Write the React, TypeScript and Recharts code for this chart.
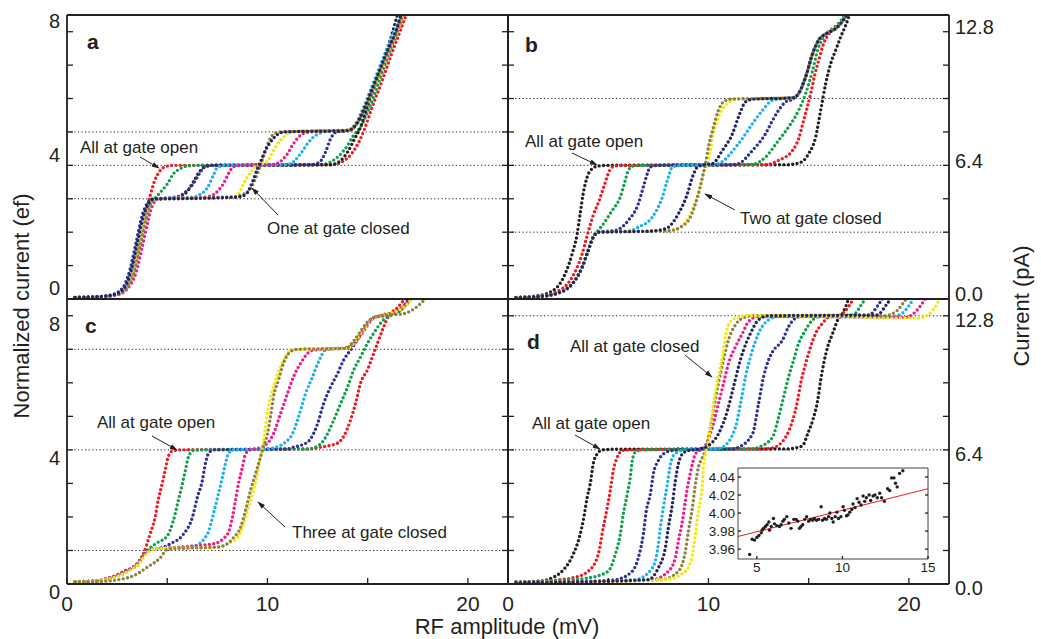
import {
  LineChart,
  ComposedChart,
  Line,
  Scatter,
  XAxis,
  YAxis,
  ReferenceLine,
  CartesianGrid,
} from "recharts";

type Pt = [number, number];

const INK = "#231f20";
const FONT = "'Liberation Sans', Arial, sans-serif";

const RED = "#ec1c24";
const GREEN = "#14a04a";
const BLACK = "#231f20";
const BLUE = "#2e3192";
const CYAN = "#1cb2ec";
const MAGENTA = "#ec1c8c";
const YELLOW = "#f4e812";
const OLIVE = "#8e8040";
const NAVY = "#222462";

// ---- panel a : one at gate closed ----
const aRed: Pt[] = [[0.4,0.04],[1.5,0.06],[2.4,0.12],[2.9,0.3],[3.25,0.75],[3.55,1.5],[3.85,2.3],[4.15,3.1],[4.35,3.5],[4.6,3.8],[4.9,3.96],[5.3,4.0],[9,4.0],[13.2,4.02],[13.7,4.1],[14.2,4.35],[14.6,4.75],[14.85,5.1],[15.2,5.7],[15.7,6.5],[16.2,7.35],[16.7,8.15],[17.1,8.8]];
const aGreen: Pt[] = [[0.4,0.04],[1.5,0.06],[2.4,0.12],[2.9,0.3],[3.3,0.8],[3.6,1.6],[3.9,2.4],[4.15,2.85],[4.4,3.02],[4.65,3.19],[5.0,3.44],[5.3,3.74],[5.65,3.9],[6.0,3.98],[6.5,4.0],[12.6,4.02],[13.0,4.06],[13.5,4.25],[14.0,4.6],[14.3,4.9],[14.65,5.15],[15.0,5.6],[15.5,6.4],[16.0,7.25],[16.5,8.05],[16.9,8.8]];
const aBlack: Pt[] = [[0.4,0.04],[1.5,0.06],[2.4,0.12],[2.9,0.3],[3.3,0.8],[3.6,1.6],[3.9,2.4],[4.15,2.85],[4.4,2.98],[4.8,3.0],[5.6,3.05],[6.0,3.22],[6.3,3.5],[6.6,3.8],[6.9,3.96],[7.3,4.0],[13.2,4.02],[13.6,4.12],[14.0,4.4],[14.35,4.8],[14.65,5.15],[15.0,5.8],[15.4,6.5],[15.8,7.2],[16.2,7.9],[16.6,8.8]];
const aBlue: Pt[] = [[0.4,0.05],[1.5,0.07],[2.3,0.14],[2.8,0.35],[3.15,0.9],[3.45,1.7],[3.75,2.5],[4.05,2.9],[4.3,3.0],[5.0,3.02],[5.6,3.08],[5.9,3.2],[6.3,3.45],[6.6,3.75],[6.85,3.95],[7.2,4.0],[12.2,4.02],[12.6,4.1],[12.9,4.4],[13.15,4.8],[13.45,5.0],[14.0,5.04],[14.4,5.2],[14.8,5.6],[15.2,6.2],[15.6,6.8],[16.0,7.4],[16.4,8.0],[16.8,8.8]];
const aCyan: Pt[] = [[0.4,0.04],[1.5,0.06],[2.4,0.12],[2.9,0.3],[3.3,0.8],[3.6,1.6],[3.9,2.4],[4.15,2.85],[4.4,2.98],[5.0,3.02],[6.3,3.05],[6.6,3.12],[7.0,3.32],[7.3,3.7],[7.5,3.93],[7.9,4.0],[10.8,4.02],[11.15,4.05],[11.65,4.35],[12.0,4.65],[12.3,4.85],[12.65,4.97],[13.0,5.02],[14.0,5.05],[14.4,5.25],[14.8,5.75],[15.2,6.35],[15.6,6.95],[16.0,7.55],[16.4,8.1],[16.8,8.8]];
const aMagenta: Pt[] = [[0.4,0.04],[1.5,0.06],[2.5,0.12],[3.0,0.3],[3.45,0.8],[3.75,1.55],[4.05,2.35],[4.3,2.85],[4.6,3.0],[6.5,3.03],[7.0,3.06],[7.3,3.12],[7.8,3.45],[8.15,3.85],[8.3,3.96],[8.7,4.0],[10.2,4.02],[10.5,4.06],[11.0,4.35],[11.3,4.65],[11.65,4.9],[11.9,4.98],[12.5,5.02],[14.1,5.06],[14.5,5.3],[14.9,5.8],[15.3,6.35],[15.7,6.9],[16.1,7.5],[16.5,8.05],[16.9,8.8]];
const aYellow: Pt[] = [[0.4,0.04],[1.5,0.06],[2.4,0.12],[2.9,0.3],[3.3,0.8],[3.6,1.6],[3.9,2.4],[4.15,2.85],[4.4,2.98],[4.8,3.0],[8.0,3.05],[8.5,3.1],[8.8,3.45],[9.15,3.78],[9.5,4.0],[9.75,4.05],[10.0,4.12],[10.3,4.45],[10.65,4.75],[11.0,4.95],[11.5,5.02],[14.1,5.06],[14.5,5.3],[14.9,5.8],[15.3,6.35],[15.7,6.9],[16.1,7.5],[16.5,8.05],[16.9,8.8]];
const aOlive: Pt[] = [[0.4,0.04],[1.5,0.06],[2.45,0.12],[2.95,0.3],[3.35,0.8],[3.65,1.6],[3.95,2.4],[4.2,2.85],[4.45,2.98],[4.8,3.0],[8.4,3.06],[8.75,3.12],[9.15,3.3],[9.4,3.6],[9.65,4.0],[9.85,4.35],[10.05,4.7],[10.3,4.93],[10.65,5.0],[14.1,5.05],[14.5,5.28],[14.9,5.78],[15.3,6.35],[15.7,6.95],[16.1,7.55],[16.5,8.1],[16.9,8.8]];
const aNavy: Pt[] = [[0.4,0.05],[1.5,0.07],[2.35,0.13],[2.85,0.32],[3.2,0.85],[3.5,1.65],[3.8,2.45],[4.1,2.88],[4.35,3.0],[4.8,3.0],[8.5,3.05],[8.9,3.12],[9.25,3.5],[9.5,3.9],[9.65,4.1],[9.9,4.45],[10.15,4.7],[10.5,4.92],[10.8,5.0],[14.0,5.04],[14.4,5.2],[14.8,5.65],[15.2,6.25],[15.6,6.85],[16.0,7.45],[16.4,8.0],[16.8,8.8]];

// ---- panel b : two at gate closed ----
const bBlack: Pt[] = [[0.4,0.05],[1.5,0.1],[2.35,0.3],[2.85,0.75],[3.2,1.35],[3.45,1.95],[3.6,2.55],[3.75,3.15],[3.95,3.65],[4.2,3.9],[4.5,3.98],[5.0,4.0],[14.0,4.02],[14.35,4.05],[14.7,4.12],[15.0,4.35],[15.35,4.85],[15.6,5.65],[15.85,6.45],[16.1,7.05],[16.35,7.45],[16.6,7.85],[16.85,8.2],[17.2,8.8]];
const bRed: Pt[] = [[0.4,0.04],[1.5,0.08],[2.35,0.2],[3.2,0.65],[3.7,1.35],[3.95,1.9],[4.25,2.5],[4.55,2.95],[4.8,3.4],[5.05,3.82],[5.3,3.98],[6.0,4.0],[12.85,4.02],[13.5,4.15],[14.2,4.45],[14.5,4.8],[14.75,5.35],[15.1,6.15],[15.3,6.7],[15.5,7.15],[15.75,7.65],[16.1,8.0],[16.5,8.2],[17.1,8.8]];
const bGreen: Pt[] = [[0.4,0.04],[1.5,0.07],[2.35,0.15],[3.2,0.45],[3.7,0.95],[4.0,1.45],[4.3,1.9],[4.5,2.05],[4.7,2.2],[5.2,2.65],[5.6,3.05],[5.85,3.55],[6.0,3.85],[6.25,3.98],[6.8,4.0],[12.2,4.03],[12.85,4.25],[13.5,4.75],[14.0,5.15],[14.5,5.65],[14.85,6.15],[15.2,6.85],[15.45,7.45],[15.7,7.8],[16.1,8.05],[16.5,8.25],[17.1,8.8]];
const bBlue: Pt[] = [[0.4,0.04],[1.5,0.07],[2.35,0.15],[3.2,0.45],[3.7,0.95],[4.0,1.45],[4.25,1.85],[4.5,2.0],[5.35,2.05],[6.0,2.35],[6.5,2.85],[6.75,3.35],[6.95,3.75],[7.1,3.95],[7.5,4.0],[11.2,4.02],[11.5,4.05],[12.2,4.45],[12.85,4.95],[13.2,5.35],[13.5,5.65],[13.85,5.9],[14.2,5.98],[14.5,6.15],[14.85,6.65],[15.2,7.35],[15.5,7.75],[15.9,7.95],[16.4,8.12],[16.9,8.5],[17.2,8.8]];
const bCyan: Pt[] = [[0.4,0.04],[1.5,0.07],[2.35,0.15],[3.2,0.45],[3.7,0.95],[4.0,1.45],[4.25,1.85],[4.5,2.0],[6.0,2.03],[6.5,2.15],[7.2,2.45],[7.7,3.05],[8.0,3.65],[8.2,3.95],[8.6,4.0],[10.2,4.02],[10.5,4.05],[11.5,4.65],[12.2,5.25],[12.7,5.65],[13.2,5.95],[13.8,6.0],[14.2,6.02],[14.5,6.15],[14.85,6.65],[15.2,7.35],[15.5,7.75],[15.9,7.95],[16.4,8.12],[16.9,8.5],[17.2,8.8]];
const bYellow: Pt[] = [[0.4,0.04],[1.5,0.07],[2.35,0.15],[3.2,0.45],[3.7,0.95],[4.0,1.45],[4.25,1.85],[4.5,2.0],[8.0,2.05],[8.5,2.1],[8.9,2.35],[9.25,2.75],[9.6,3.35],[9.75,3.75],[9.95,4.05],[10.1,4.45],[10.25,4.95],[10.5,5.45],[10.85,5.8],[11.2,5.95],[11.6,6.0],[14.2,6.02],[14.5,6.15],[14.85,6.65],[15.2,7.35],[15.5,7.75],[15.9,7.95],[16.4,8.12],[16.9,8.5],[17.2,8.8]];
const bOlive: Pt[] = [[0.4,0.04],[1.5,0.07],[2.35,0.15],[3.2,0.45],[3.7,0.95],[4.0,1.45],[4.25,1.85],[4.5,2.0],[8.0,2.04],[8.6,2.15],[9.1,2.45],[9.45,3.05],[9.7,3.65],[9.85,4.05],[10.0,4.55],[10.25,5.15],[10.5,5.65],[10.75,5.9],[11.1,5.98],[14.2,6.02],[14.5,6.15],[14.85,6.65],[15.2,7.35],[15.5,7.75],[15.9,7.95],[16.4,8.12],[16.9,8.5],[17.2,8.8]];
const bNavy: Pt[] = [[0.4,0.04],[1.5,0.07],[2.35,0.15],[3.2,0.45],[3.7,0.95],[4.0,1.45],[4.25,1.85],[4.5,2.0],[7.0,2.03],[7.85,2.1],[8.5,2.55],[8.95,3.15],[9.2,3.65],[9.45,3.95],[9.8,4.02],[10.2,4.05],[10.7,4.45],[11.2,4.95],[11.5,5.45],[11.85,5.9],[12.2,5.98],[14.2,6.02],[14.5,6.15],[14.85,6.65],[15.2,7.35],[15.5,7.75],[15.9,7.95],[16.4,8.12],[16.9,8.5],[17.2,8.8]];

// ---- panel c : three at gate closed ----
const cRed: Pt[] = [[0.4,0.07],[1.5,0.1],[2.2,0.2],[3.0,0.42],[3.5,0.55],[3.8,0.88],[4.15,1.5],[4.4,2.0],[4.55,2.5],[4.75,3.0],[4.9,3.4],[5.05,3.8],[5.3,3.98],[5.7,4.0],[12.2,4.03],[12.65,4.08],[13.5,4.2],[13.8,4.4],[14.15,4.9],[14.4,5.4],[14.65,6.0],[15.0,6.4],[15.25,6.8],[15.5,7.2],[15.75,7.6],[16.05,8.0],[16.5,8.25],[17.1,8.7]];
const cGreen: Pt[] = [[0.4,0.07],[1.5,0.09],[2.2,0.18],[3.0,0.38],[3.5,0.6],[3.85,0.9],[4.15,1.08],[4.5,1.23],[5.0,1.43],[5.3,1.88],[5.55,2.48],[5.75,2.98],[5.9,3.38],[6.05,3.78],[6.3,3.98],[6.7,4.0],[12.0,4.03],[12.3,4.06],[12.8,4.28],[13.3,4.88],[13.65,5.38],[14.0,5.88],[14.3,6.38],[14.65,6.78],[14.9,7.08],[15.3,7.48],[15.8,7.88],[16.3,8.05],[16.8,8.25],[17.3,8.7]];
const cBlue: Pt[] = [[0.4,0.07],[1.5,0.09],[2.15,0.18],[3.0,0.38],[3.5,0.6],[3.9,0.9],[4.2,1.04],[4.6,1.06],[5.15,1.2],[5.8,1.48],[6.25,1.98],[6.5,2.58],[6.75,3.08],[6.9,3.58],[7.05,3.88],[7.3,4.0],[11.0,4.03],[11.3,4.08],[12.0,4.23],[12.5,4.78],[12.8,5.38],[13.15,5.88],[13.5,6.28],[13.8,6.68],[14.15,6.98],[14.5,7.3],[14.9,7.7],[15.3,7.95],[16.0,8.02],[16.6,8.15],[17.2,8.7]];
const cCyan: Pt[] = [[0.4,0.07],[1.5,0.09],[2.15,0.18],[3.0,0.38],[3.5,0.6],[3.9,0.9],[4.2,1.04],[4.6,1.06],[6.3,1.13],[7.0,1.48],[7.3,2.08],[7.55,2.68],[7.75,3.18],[7.9,3.58],[8.05,3.88],[8.3,4.0],[10.0,4.03],[10.3,4.06],[11.15,4.38],[11.55,4.98],[11.9,5.68],[12.25,6.18],[12.55,6.63],[12.9,6.98],[13.3,7.02],[14.0,7.05],[14.4,7.25],[14.8,7.6],[15.2,7.9],[15.7,8.02],[16.4,8.1],[16.9,8.3],[17.4,8.7]];
const cMagenta: Pt[] = [[0.4,0.07],[1.5,0.09],[2.15,0.18],[3.0,0.38],[3.5,0.6],[3.9,0.9],[4.2,1.04],[4.6,1.06],[7.3,1.2],[8.0,1.48],[8.25,1.98],[8.4,2.48],[8.55,2.98],[8.75,3.48],[8.9,3.88],[9.15,4.0],[9.5,4.04],[9.8,4.1],[10.3,4.48],[10.65,5.08],[11.0,5.68],[11.3,6.18],[11.65,6.58],[12.0,6.88],[12.3,6.98],[14.0,7.04],[14.4,7.22],[14.8,7.55],[15.2,7.88],[15.7,8.02],[16.4,8.12],[16.9,8.35],[17.3,8.7]];
const cYellow: Pt[] = [[0.4,0.07],[1.5,0.09],[2.2,0.17],[3.0,0.36],[3.55,0.58],[3.95,0.88],[4.25,1.03],[4.6,1.06],[7.5,1.1],[8.0,1.2],[8.5,1.38],[8.8,1.78],[9.05,2.28],[9.25,2.68],[9.5,3.28],[9.65,3.78],[9.75,4.08],[9.9,4.68],[10.05,5.28],[10.3,5.88],[10.65,6.48],[10.9,6.78],[11.15,6.96],[11.6,7.0],[14.0,7.03],[14.4,7.25],[14.8,7.6],[15.2,7.9],[15.7,8.02],[16.3,8.1],[16.9,8.3],[17.4,8.7]];
const cOlive: Pt[] = [[0.4,0.06],[1.5,0.07],[2.5,0.12],[3.5,0.3],[4.0,0.5],[4.65,0.78],[5.0,1.03],[5.5,1.06],[7.5,1.1],[8.0,1.2],[8.3,1.38],[8.65,1.68],[8.9,2.18],[9.15,2.78],[9.4,3.28],[9.65,3.78],[9.8,4.08],[10.0,4.48],[10.15,4.98],[10.3,5.58],[10.55,6.08],[10.8,6.58],[11.15,6.93],[11.5,7.0],[13.9,7.03],[14.3,7.25],[14.6,7.5],[14.9,7.75],[15.3,7.95],[16.0,8.02],[16.7,8.05],[17.3,8.2],[17.8,8.45],[18.2,8.7]];

// ---- panel d : all at gate closed ----
const dBlack: Pt[] = [[0.4,0.06],[1.5,0.08],[2.35,0.23],[2.85,0.48],[3.25,0.88],[3.6,1.48],[3.75,1.88],[3.95,2.58],[4.1,2.98],[4.25,3.58],[4.45,3.88],[4.7,4.0],[5.5,4.02],[14.0,4.03],[14.35,4.06],[14.7,4.13],[14.95,4.48],[15.2,4.88],[15.45,5.48],[15.6,6.08],[15.75,6.58],[15.95,7.08],[16.2,7.48],[16.45,7.88],[16.7,8.08],[16.85,8.28],[17.1,8.7]];
const dRed: Pt[] = [[0.4,0.05],[2.0,0.1],[3.2,0.18],[4.0,0.38],[4.5,0.88],[4.75,1.68],[4.95,2.28],[5.1,2.78],[5.25,3.38],[5.45,3.78],[5.7,3.98],[6.0,4.0],[12.8,4.03],[13.2,4.06],[13.85,4.38],[14.2,4.88],[14.45,5.48],[14.6,5.98],[14.85,6.58],[15.1,7.08],[15.35,7.48],[15.7,7.78],[16.0,7.96],[16.5,8.0],[17.0,8.28],[17.4,8.7]];
const dGreen: Pt[] = [[0.4,0.05],[2.5,0.1],[4.0,0.18],[5.0,0.38],[5.35,0.88],[5.6,1.48],[5.75,2.08],[5.95,2.68],[6.1,3.18],[6.2,3.68],[6.35,3.93],[6.7,4.0],[12.2,4.03],[12.5,4.08],[13.2,4.38],[13.5,4.98],[13.75,5.58],[14.0,6.18],[14.25,6.68],[14.5,7.18],[14.85,7.58],[15.2,7.88],[15.7,8.0],[17.2,8.02],[17.6,8.3],[18.0,8.7]];
const dBlue: Pt[] = [[0.4,0.04],[3.0,0.06],[5.35,0.13],[6.2,0.38],[6.5,0.78],[6.75,1.48],[6.9,2.18],[7.1,2.68],[7.25,3.28],[7.5,3.68],[7.75,3.88],[8.2,3.98],[8.7,4.0],[11.2,4.03],[11.5,4.08],[12.2,4.48],[12.5,5.38],[12.75,6.18],[13.0,6.68],[13.2,6.93],[13.7,7.28],[14.0,7.68],[14.35,7.93],[14.85,8.0],[18.0,8.02],[18.5,8.35],[18.9,8.7]];
const dCyan: Pt[] = [[0.4,0.04],[3.0,0.06],[6.35,0.13],[7.2,0.48],[7.45,0.98],[7.6,1.68],[7.75,2.28],[7.95,2.98],[8.05,3.38],[8.2,3.78],[8.45,3.93],[8.85,4.0],[10.4,4.03],[10.7,4.08],[11.35,4.68],[11.6,5.38],[11.85,6.18],[12.1,6.78],[12.5,7.48],[13.0,7.88],[13.5,7.98],[19.0,7.96],[19.6,8.05],[20.0,8.3],[20.4,8.7]];
const dMagenta: Pt[] = [[0.4,0.04],[3.0,0.06],[7.2,0.13],[8.0,0.38],[8.35,0.78],[8.5,1.28],[8.7,1.88],[8.85,2.48],[8.95,2.88],[9.05,3.18],[9.2,3.58],[9.35,3.88],[9.6,4.0],[9.85,4.13],[10.2,4.68],[10.5,5.38],[10.75,5.98],[11.0,6.58],[11.35,7.08],[11.7,7.48],[12.0,7.83],[12.5,7.98],[19.0,7.96],[19.8,7.95],[20.3,8.1],[20.7,8.4],[21.0,8.7]];
const dOlive: Pt[] = [[0.4,0.04],[3.0,0.06],[7.7,0.13],[8.5,0.38],[8.85,0.98],[9.0,1.58],[9.2,2.28],[9.35,2.98],[9.5,3.48],[9.7,3.78],[9.85,3.98],[10.0,4.38],[10.25,5.18],[10.5,5.98],[10.75,6.68],[11.0,7.28],[11.35,7.73],[11.7,7.93],[12.2,8.0],[18.8,8.0],[19.4,8.15],[19.8,8.45],[20.1,8.7]];
const dYellow: Pt[] = [[0.4,0.04],[3.0,0.06],[7.85,0.13],[8.85,0.38],[9.2,0.88],[9.35,1.48],[9.5,2.18],[9.7,2.98],[9.75,3.48],[9.85,3.88],[9.95,4.08],[10.1,4.68],[10.25,5.38],[10.5,6.18],[10.7,6.78],[10.85,7.38],[11.1,7.83],[11.5,7.96],[12.0,8.0],[17.0,7.98],[18.5,7.93],[20.5,7.93],[21.0,8.05],[21.4,8.35],[21.7,8.7]];
const dNavy: Pt[] = [[0.4,0.04],[3.0,0.06],[7.0,0.13],[7.5,0.48],[7.85,1.08],[8.0,1.68],[8.2,2.38],[8.35,3.08],[8.5,3.58],[8.7,3.88],[9.0,3.98],[9.5,4.02],[10.0,4.13],[10.5,4.48],[10.95,5.18],[11.25,5.88],[11.5,6.48],[11.75,6.98],[12.1,7.48],[12.5,7.88],[13.0,8.0],[18.4,8.02],[18.9,8.35],[19.3,8.7]];

// plateau guide lines (ef)
const levelsA = [3, 4, 5];
const levelsB = [2, 4, 6];
const levelsC = [1, 4, 7];
const levelsD = [4, 8];

// inset of panel d: plateau current near 4 ef
const insetX = [4.58,4.73,4.87,5.0,5.12,5.26,5.31,5.39,5.5,5.6,5.7,5.74,5.84,5.97,6.03,6.17,6.32,6.42,6.52,6.61,6.75,6.87,7.0,7.16,7.29,7.39,7.49,7.58,7.68,7.8,7.91,8.03,8.14,8.26,8.36,8.49,8.61,8.76,8.84,8.96,9.07,9.19,9.27,9.38,9.46,9.58,9.68,9.77,9.91,10.04,10.12,10.24,10.33,10.43,10.55,10.62,10.74,10.86,10.97,11.09,11.21,11.3,11.4,11.56,11.65,11.79,11.9,12.04,12.18,12.29,12.45,12.64,12.76,12.87,13.01,13.1,13.2,13.34,13.53];
const insetY = [3.954,3.971,3.970,3.973,3.975,3.978,3.981,3.983,3.985,3.987,3.990,3.981,3.985,3.994,3.988,3.986,3.985,3.987,3.991,3.993,3.996,3.989,3.983,3.993,3.993,3.991,3.983,3.985,3.987,3.993,3.996,3.991,3.993,3.992,3.994,3.992,3.993,4.007,3.992,3.994,3.993,3.996,4.000,3.994,3.990,3.996,4.001,3.994,3.996,4.007,4.003,3.997,3.998,4.001,4.004,4.010,4.006,4.016,4.012,4.009,4.019,4.013,4.017,4.020,4.014,4.019,4.020,4.017,4.022,4.017,4.013,4.027,4.025,4.039,4.039,4.033,4.029,4.044,4.047];
const fitX = [3.9, 15];
const fitY = [3.974, 4.027];

type Series = { name: string; color: string; pts: Pt[] };

const seriesA: Series[] = [
  { name: "red", color: RED, pts: aRed },
  { name: "green", color: GREEN, pts: aGreen },
  { name: "black", color: BLACK, pts: aBlack },
  { name: "blue", color: BLUE, pts: aBlue },
  { name: "cyan", color: CYAN, pts: aCyan },
  { name: "magenta", color: MAGENTA, pts: aMagenta },
  { name: "yellow", color: YELLOW, pts: aYellow },
  { name: "olive", color: OLIVE, pts: aOlive },
  { name: "navy", color: NAVY, pts: aNavy },
];
const seriesB: Series[] = [
  { name: "black", color: BLACK, pts: bBlack },
  { name: "red", color: RED, pts: bRed },
  { name: "green", color: GREEN, pts: bGreen },
  { name: "blue", color: BLUE, pts: bBlue },
  { name: "cyan", color: CYAN, pts: bCyan },
  { name: "yellow", color: YELLOW, pts: bYellow },
  { name: "olive", color: OLIVE, pts: bOlive },
  { name: "navy", color: NAVY, pts: bNavy },
];
const seriesC: Series[] = [
  { name: "red", color: RED, pts: cRed },
  { name: "green", color: GREEN, pts: cGreen },
  { name: "blue", color: BLUE, pts: cBlue },
  { name: "cyan", color: CYAN, pts: cCyan },
  { name: "magenta", color: MAGENTA, pts: cMagenta },
  { name: "yellow", color: YELLOW, pts: cYellow },
  { name: "olive", color: OLIVE, pts: cOlive },
];
const seriesD: Series[] = [
  { name: "black", color: BLACK, pts: dBlack },
  { name: "red", color: RED, pts: dRed },
  { name: "green", color: GREEN, pts: dGreen },
  { name: "blue", color: BLUE, pts: dBlue },
  { name: "cyan", color: CYAN, pts: dCyan },
  { name: "magenta", color: MAGENTA, pts: dMagenta },
  { name: "olive", color: OLIVE, pts: dOlive },
  { name: "yellow", color: YELLOW, pts: dYellow },
  { name: "navy", color: NAVY, pts: dNavy },
];

type Side = "left" | "right" | "top" | "bottom";
type TickOpts = { len?: number; fmt?: (v: number) => string | null; dy?: number; gap?: number; size?: number };

// inward tick marks, labels outside
function makeTick(side: Side, o: TickOpts = {}) {
  const len = o.len ?? 6;
  const gap = o.gap ?? 7;
  const size = o.size ?? 20;
  const dy = o.dy ?? 0;
  return (p: any) => {
    const { x, y, payload } = p;
    const lab = o.fmt ? o.fmt(payload.value) : null;
    let x2 = x;
    let y2 = y;
    if (side === "left") x2 = x + len;
    if (side === "right") x2 = x - len;
    if (side === "top") y2 = y + len;
    if (side === "bottom") y2 = y - len;
    let tx = x;
    let ty = y;
    let anchor: "end" | "start" | "middle" = "middle";
    if (side === "left") { tx = x - gap; anchor = "end"; }
    if (side === "right") { tx = x + gap; anchor = "start"; }
    if (side === "bottom") ty = y + gap;
    return (
      <g>
        <line x1={x} y1={y} x2={x2} y2={y2} stroke={INK} strokeWidth={1.3} />
        {lab !== null && (
          <text x={tx} y={ty + dy} dy="0.36em" textAnchor={anchor} fontSize={size} fill={INK} fontFamily={FONT}>
            {lab}
          </text>
        )}
      </g>
    );
  };
}

const efLabel = (v: number) => (v % 4 === 0 ? String(v) : null);
const paLabel = (v: number) => (v % 4 === 0 ? (v * 1.6).toFixed(1) : null);
const mvLabel = (v: number) => (v % 10 === 0 ? String(v) : null);

const xTicks = [0, 5, 10, 15, 20];
const yTicks = [0, 1, 2, 3, 4, 5, 6, 7, 8];
const axisLine = { stroke: INK, strokeWidth: 1.8 };

type PanelProps = {
  series: Series[];
  levels: number[];
  left: number;
  top: number;
  width: number;
  height: number;
  margin: { top: number; right: number; bottom: number; left: number };
  yl: number;
  yr: number;
  xb: number;
  efDy?: number;
  paDy?: number;
  showX: boolean;
  topTicks: boolean;
};

function Panel(p: PanelProps) {
  return (
    <div style={{ position: "absolute", left: p.left, top: p.top }}>
      <LineChart width={p.width} height={p.height} margin={p.margin}>
        <XAxis xAxisId="b" dataKey="x" type="number" domain={[0, 22]} allowDataOverflow ticks={xTicks} interval={0}
          height={p.xb} tickSize={0} tickMargin={0} axisLine={axisLine} tickLine={false}
          tick={p.showX ? makeTick("bottom", { fmt: mvLabel, gap: 19, size: 21 }) : false} />
        <XAxis xAxisId="t" orientation="top" type="number" domain={[0, 22]} allowDataOverflow ticks={xTicks} interval={0}
          height={1} tickSize={0} tickMargin={0} axisLine={axisLine} tickLine={false}
          tick={p.topTicks ? makeTick("top") : false} />
        <YAxis yAxisId="l" dataKey="y" type="number" domain={[0, 8.5]} allowDataOverflow ticks={yTicks} interval={0}
          width={p.yl} tickSize={0} tickMargin={0} axisLine={axisLine} tickLine={false}
          tick={makeTick("left", { fmt: p.efDy !== undefined ? efLabel : undefined, dy: p.efDy })} />
        <YAxis yAxisId="r" orientation="right" type="number" domain={[0, 8.5]} allowDataOverflow ticks={yTicks} interval={0}
          width={p.yr} tickSize={0} tickMargin={0} axisLine={axisLine} tickLine={false}
          tick={makeTick("right", { fmt: p.paDy !== undefined ? paLabel : undefined, dy: p.paDy, gap: 6 })} />
        {p.levels.map((lv) => (
          <ReferenceLine key={lv} y={lv} xAxisId="b" yAxisId="l" stroke={INK} strokeWidth={1} strokeDasharray="1.2 2.4" />
        ))}
        {p.series.map((s) => (
          <Line
            key={s.name}
            data={s.pts.map(([x, y]) => ({ x, y }))}
            dataKey="y"
            xAxisId="b"
            yAxisId="l"
            type="monotone"
            stroke={s.color}
            strokeWidth={3.4}
            strokeDasharray="0 4.4"
            strokeLinecap="round"
            dot={false}
            isAnimationActive={false}
          />
        ))}
      </LineChart>
    </div>
  );
}

function Inset() {
  const pts = insetX.map((x, i) => ({ x, y: insetY[i] }));
  const fit = fitX.map((x, i) => ({ x, y: fitY[i] }));
  const thin = { stroke: "#444", strokeWidth: 1 };
  const yt = [3.96, 3.98, 4.0, 4.02, 4.04];
  return (
    <div style={{ position: "absolute", left: 690, top: 460 }}>
      <ComposedChart width={245} height={120} margin={{ top: 7, right: 6, bottom: 0, left: 0 }}>
        <CartesianGrid xAxisId="b" yAxisId="l" horizontal={false} vertical={false} fill="#fff" />
        <XAxis xAxisId="b" dataKey="x" type="number" domain={[3.9, 15]} allowDataOverflow ticks={[5, 10, 15]} interval={0}
          height={21} tickSize={0} tickMargin={0} axisLine={thin} tickLine={false}
          tick={makeTick("bottom", { len: 3, fmt: (v) => String(v), gap: 8, size: 13.5 })} />
        <XAxis xAxisId="t" orientation="top" type="number" domain={[3.9, 15]} allowDataOverflow ticks={[5, 10, 15]} interval={0}
          height={1} tickSize={0} tickMargin={0} axisLine={thin} tickLine={false} tick={makeTick("top", { len: 3 })} />
        <YAxis yAxisId="l" dataKey="y" type="number" domain={[3.949, 4.05]} allowDataOverflow ticks={yt} interval={0}
          width={48} tickSize={0} tickMargin={0} axisLine={thin} tickLine={false}
          tick={makeTick("left", { len: 3, fmt: (v) => v.toFixed(2), gap: 3, size: 13.5 })} />
        <YAxis yAxisId="r" orientation="right" type="number" domain={[3.949, 4.05]} allowDataOverflow ticks={yt} interval={0}
          width={1} tickSize={0} tickMargin={0} axisLine={thin} tickLine={false} tick={makeTick("right", { len: 3 })} />
        <Scatter
          data={pts}
          xAxisId="b"
          yAxisId="l"
          isAnimationActive={false}
          shape={(s: any) => <circle cx={s.cx} cy={s.cy} r={1.7} fill={INK} />}
        />
        <Line data={fit} dataKey="y" xAxisId="b" yAxisId="l" type="linear" stroke={RED} strokeWidth={1} dot={false} isAnimationActive={false} />
      </ComposedChart>
    </div>
  );
}

const txt = { fontFamily: FONT, fill: INK };

function Overlay() {
  const arrows: [number, number, number, number][] = [
    [140, 157, 159, 168],
    [278, 215, 252, 188],
    [572, 153, 597, 165],
    [735, 210, 705, 194],
    [152, 436, 177, 450],
    [285, 527, 258, 502],
    [685, 355, 712, 377],
    [575, 435, 600, 449],
  ];
  const notes: [number, number, string][] = [
    [80, 153, "All at gate open"],
    [267, 234, "One at gate closed"],
    [525, 147, "All at gate open"],
    [740, 224, "Two at gate closed"],
    [97, 428, "All at gate open"],
    [292, 538, "Three at gate closed"],
    [570, 352, "All at gate closed"],
    [532, 429, "All at gate open"],
  ];
  const letters: [number, number, string][] = [
    [87, 49, "a"],
    [525, 52, "b"],
    [85, 333, "c"],
    [527, 349, "d"],
  ];
  return (
    <svg width={1041} height={639} style={{ position: "absolute", left: 0, top: 0, pointerEvents: "none" }}>
      <defs>
        <marker id="ah" viewBox="0 0 10 10" refX="9" refY="5" markerWidth="8" markerHeight="8" orient="auto">
          <path d="M0,1.8 L10,5 L0,8.2 z" fill={INK} />
        </marker>
      </defs>
      {arrows.map(([x1, y1, x2, y2], i) => (
        <line key={i} x1={x1} y1={y1} x2={x2} y2={y2} stroke={INK} strokeWidth={1} markerEnd="url(#ah)" />
      ))}
      {notes.map(([x, y, t], i) => (
        <text key={i} x={x} y={y} fontSize={17} {...txt}>{t}</text>
      ))}
      {letters.map(([x, y, t]) => (
        <text key={t} x={x} y={y} fontSize={21} fontWeight="bold" {...txt}>{t}</text>
      ))}
      <text transform="translate(21,306) rotate(-90)" textAnchor="middle" dy="0.36em" fontSize={22} {...txt}>
        Normalized current (ef)
      </text>
      <text transform="translate(1021,306) rotate(-90)" textAnchor="middle" dy="0.36em" fontSize={22} {...txt}>
        Current (pA)
      </text>
      <text x={507} y={626} textAnchor="middle" dy="0.36em" fontSize={22} {...txt}>
        RF amplitude (mV)
      </text>
    </svg>
  );
}

export default function App() {
  return (
    <div style={{ position: "absolute", left: 0, top: 0, width: 1041, height: 639, background: "#fff", overflow: "hidden" }}>
      <Panel series={seriesA} levels={levelsA} left={0} top={0} width={510} height={320}
        margin={{ top: 14, right: 1, bottom: 0, left: 0 }} yl={67} yr={1} xb={21} efDy={-11} showX={false} topTicks={true} />
      <Panel series={seriesB} levels={levelsB} left={490} top={0} width={551} height={320}
        margin={{ top: 14, right: 0, bottom: 0, left: 0 }} yl={18} yr={92} xb={21} paDy={-5} showX={false} topTicks={true} />
      <Panel series={seriesC} levels={levelsC} left={0} top={298} width={510} height={341}
        margin={{ top: 0, right: 1, bottom: 0, left: 0 }} yl={67} yr={1} xb={55} efDy={8} showX={true} topTicks={true} />
      <Panel series={seriesD} levels={levelsD} left={490} top={298} width={551} height={341}
        margin={{ top: 0, right: 0, bottom: 0, left: 0 }} yl={18} yr={92} xb={55} paDy={4} showX={true} topTicks={true} />
      <Inset />
      <Overlay />
    </div>
  );
}
